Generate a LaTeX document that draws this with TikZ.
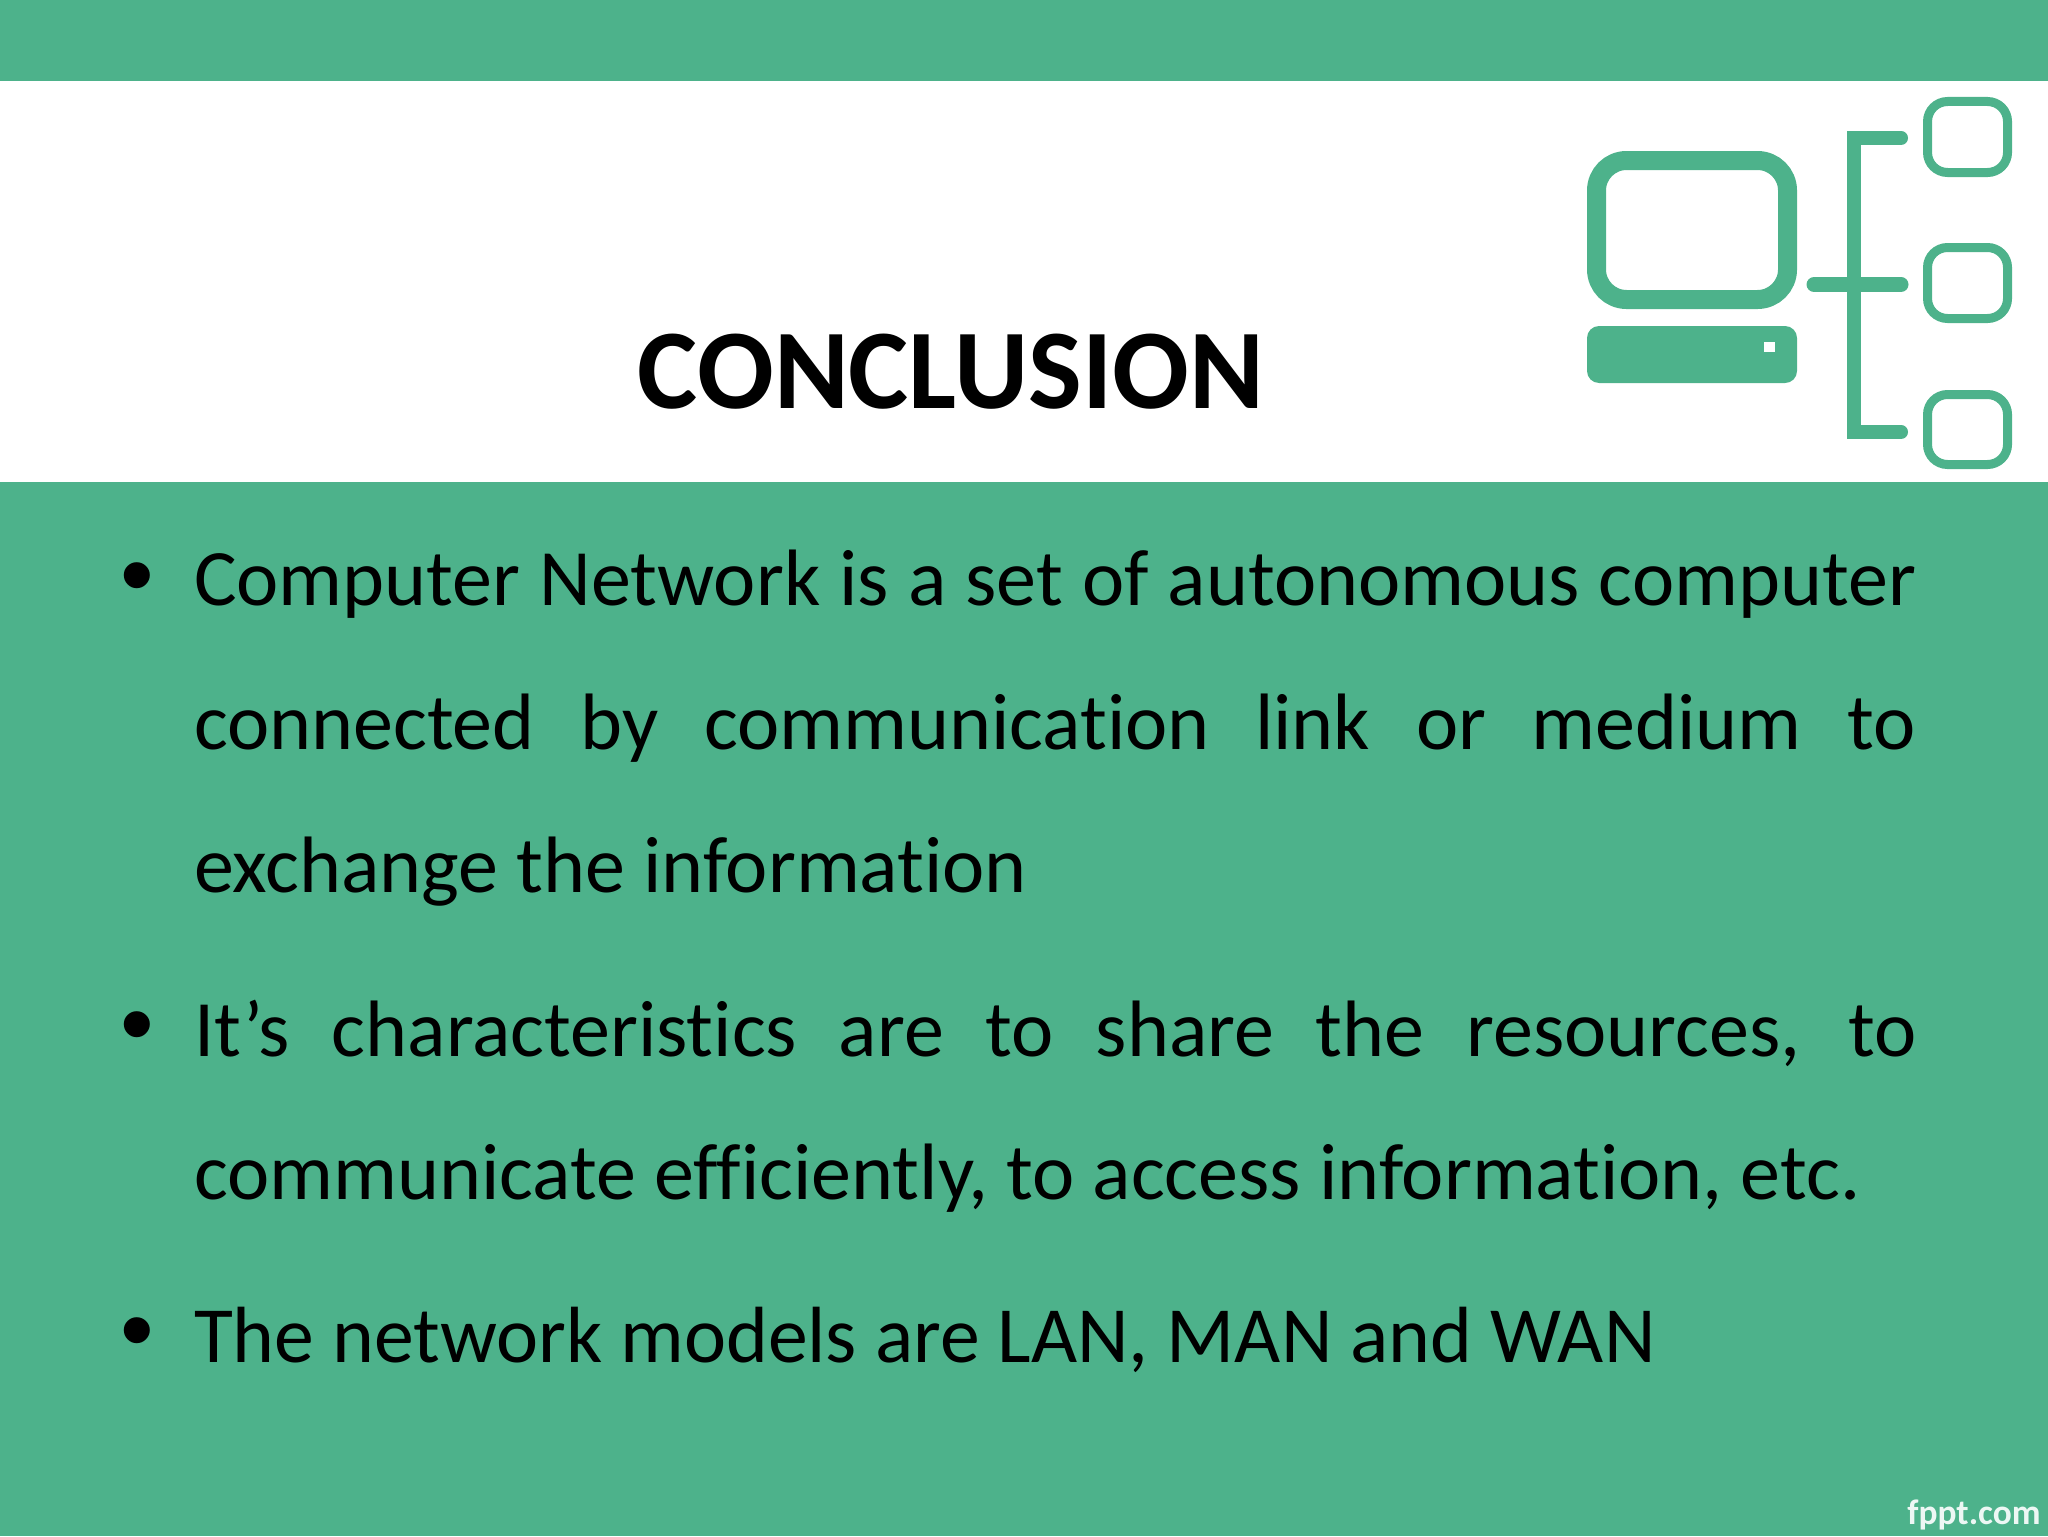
\documentclass[tikz,border=0pt]{standalone}
\usepackage{fontspec}
\setmainfont[RawFeature={-liga}]{Carlito}
\newfontfamily\bulletfont{Liberation Sans}
\definecolor{band}{HTML}{4DB28B}
\tikzset{
  x=0.5pt,y=-0.5pt,
  bodyline/.style={anchor=base west,inner sep=0pt,outer sep=0pt,font=\fontsize{40}{40}\selectfont,text=black},
  bulletmark/.style={anchor=base,inner sep=0pt,font=\bulletfont\fontsize{48}{48}\selectfont,text=black},
  iconline/.style={draw=band,line cap=round,line join=miter},
  iconbox/.style={draw=band,line width=4.5pt,rounded corners=10pt},
}
\newcommand{\lineW}{861pt}
\begin{document}
\begin{tikzpicture}
\useasboundingbox (0,0) rectangle (2048,1536);
\fill[band] (0,0) rectangle (2048,81);
\fill[band] (0,482) rectangle (2048,1536);
% icon
\draw[draw=band,line width=9.5pt,rounded corners=15pt] (1596.5,160.5) rectangle (1787.5,299.5);
\fill[band,rounded corners=6pt] (1587,326) rectangle (1797,383);
\fill[white] (1764,342) rectangle (1775,352);
\draw[iconline,line width=7pt] (1901,138) -- (1854,138) -- (1854,432) -- (1901,432);
\draw[iconline,line width=7.5pt] (1814,284.5) -- (1901,284.5);
\draw[iconbox] (1927.5,101.5) rectangle (2007.5,172.5);
\draw[iconbox] (1927.5,247.5) rectangle (2007.5,318.5);
\draw[iconbox] (1927.5,394.5) rectangle (2007.5,464.5);
% title
\node[anchor=base,inner sep=0pt,font=\bfseries\fontsize{56.8}{57}\selectfont] (title) at (951,408) {CONCLUSION};
% bullets
\node[bulletmark] (b1) at (137,607) {•};
\node[bulletmark] (b2) at (137,1056) {•};
\node[bulletmark] (b3) at (137,1362) {•};
% body
\node[bodyline] (l1) at (194,605) {\makebox[\lineW][s]{Computer Network is a set of autonomous computer}};
\node[bodyline] (l2) at (194,749) {\makebox[\lineW][s]{connected by communication link or medium to}};
\node[bodyline] (l3) at (194,892) {exchange the information};
\node[bodyline] (l4) at (194,1056) {\makebox[\lineW][s]{It’s characteristics are to share the resources, to}};
\node[bodyline] (l5) at (194,1199) {communicate efficiently, to access information, etc.};
\node[bodyline,font=\fontsize{39.85}{40}\selectfont] (l6) at (194,1362) {The network models are LAN, MAN and WAN};
% logo
\node[anchor=base east,inner sep=0pt,text=white!90!band,font=\bfseries\fontsize{17.7}{18}\selectfont] (logo) at (2041,1524) {fppt.com};
\end{tikzpicture}
\end{document}
